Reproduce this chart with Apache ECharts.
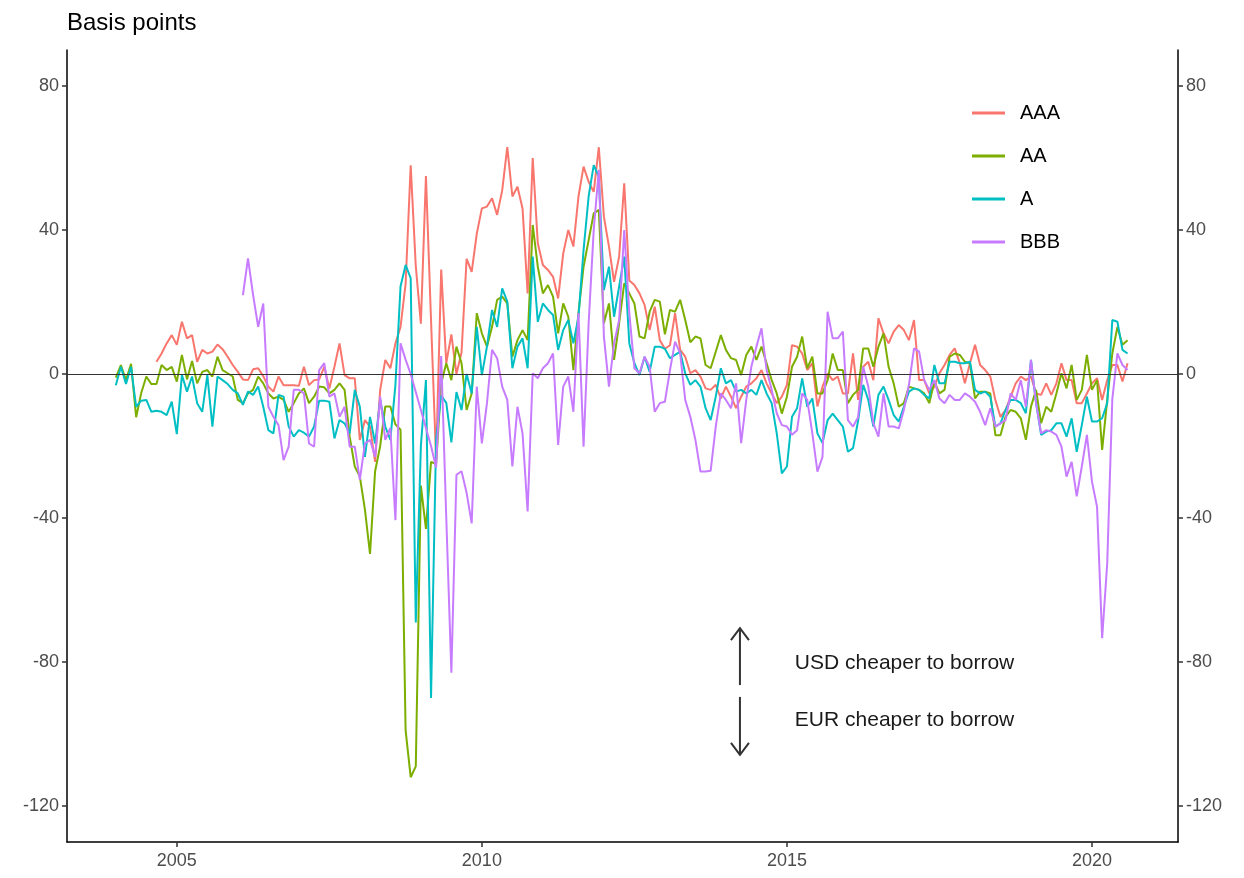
<!DOCTYPE html>
<html>
<head>
<meta charset="utf-8">
<script src="https://cdn.jsdelivr.net/npm/echarts@6/dist/echarts.min.js"></script>
<style>
html, body { margin: 0; padding: 0; background: #fff; }
#main { width: 1244px; height: 878px; }
</style>
</head>
<body>
<div id="main"></div>
<script>
var seriesNames = ['AAA', 'AA', 'A', 'BBB'];
var colors = ['#F8766D', '#7CAE00', '#00BFC4', '#C77CFF'];
// month of first observation, counted from Jan 2004
var startMonth = [8, 0, 0, 25];

var aaa = [3.4, 5.7, 8.5, 10.8, 8.1, 14.5, 9.9, 10.8, 3.4, 6.7, 5.7, 6.2, 8.2, 6.9, 4.8, 2.5, 0.6, -1.5, -1.7, 1.3, 1.6, -0.6, -3.5, -4.9, -0.7, -3.1, -3.1, -3.1, -3.3,
  2.0, -3.1, -1.7, -1.5, 2.0, -4.0, 2.0, 8.5, -0.3, -1.2, -1.2, -18.3, -12.8, -14.6, -24.4, -4.4, 3.9, 1.6, 8.5, 13.1, 25, 58, 30, 14, 55, 15, -24, 29, 3, 11, 0, 6, 32,
  28.4, 39, 46, 46.5, 48.8, 44.2, 51, 63, 49.3, 52, 46, 22.4, 60, 36.3, 30.3, 28.9, 27, 21, 33.5, 40, 35.4, 49.3, 57.6, 53.4, 50.6, 63, 43.7, 35.4, 25.6, 32.6, 53, 26, 24.7, 22.4, 19.2, 12.2, 18.7, 9.4, 7,
  8, 16.9, 6.7, 4.8, 0.2, 1.1, -0.7, -4, -4.4, -3, -6.8, -3.5, -6.3, -9.5, -6.3, -3.5, -2.6, -1.2, 1.1, -2.6, -5.4, -8.1, -6.3, -3, 8, 7.6, 5.7, 1.1, 3, -9, -3.5, 0.2, -1.7, -0.7, -5.4, -5.4, 5.7, -7.2,
  2, 3.4, -1.7, 15.5, 11.3, 8.5, 11.8, 13.6, 12.2, 9.4, 15, -1.7, -1.7, -5.4, -3.5, 0.2, 2.5, 5.3, 7.1, 3, -2.6, 3, 8.1, 2.5, 1.1, -0.7, -7.2, -11.9, -10, -6.3, -2.6, -0.7, -1.7, -0.7, -5.4, -5.8, -2.6,
  -5.8, -2.6, 3, -1.7, -1.7, -8.1, -8.1, -5.4, -2.6, -1.2, -7.2, -1.7, 2.5, 2.5, -2.1, 3];

var aa = [-1, 2.5, -1.7, 2.8, -12, -5.3, -0.7, -2.8, -2.8, 2.5, 1.1, 2, -2.1, 5.3, -1.5, 3.6, -2.6, 0.6, 1.1, -0.7, 4.8, 1.1, 0.2, -0.7, -7.2, -8.1, -5.4, -4.4, -0.7, -2.6, -5.4, -6.8, -6.3, -7.2, -10.5, -8.1, -5.4,
  -4.0, -8.1, -6.3, -3.5, -3.7, -5.4, -4.4, -2.6, -4.4, -17.4, -25.7, -28.5, -37.7, -50, -27, -20, -9, -9, -14, -15.5,
  -99, -112, -109, -31, -43, -24.4, -25, -2.6, 3, -1.7, 7.6, 3, -10,
  -5.4, 16.9, 11.3, 7.6, 13.1, 20.6, 21.5, 19.6, 4.8, 9.4, 12.2, 9.4, 41.4, 29.8, 22.4, 24.7, 21.5, 11.3, 19.6, 15.9, 1.1, 16.9, 29.8, 37.2, 44.6, 45.6, 14.1, 19.6, 3.9, 14.1, 25.2, 22.4, 19.6, 10.4, 9.9, 17.3, 20.6, 20.1, 11,
  17.8, 17.3, 20.6, 15, 8.8, 10.4, 9.9, 2.5, 1.6, 6.2, 10.8, 6.7, 4.4, 3.9, -0.3, 5.3, 7.6, 3.9, 7.6, 3, -1.7, -5.4, -11, -6.3, 2, 4.8, 10.4, 1.6, 4.8, -5.4, -5.4, -1.7, 5.7, 1.1, 1.1, -8.1, -5.8, -4.4,
  7.1, 7.1, 2, 7.6, 11.3, 2, -2.6, -9.1, -8.1, -3.5, -4, -4.4, -5.4, -8.1, -2.1, -5.4, -4.4, 4.8, 5.7, 5.3, 3.4, 3, -6.8, -4.9, -4.9, -5.4, -17, -17, -11.9, -10, -10.5, -12.3, -18.3, -9.1, -4.4, -13.7, -9.1,
  -10.5, -5.4, 0.2, -4, 2.5, -7.2, -4.4, 5.3, -4.4, -1.7, -21.1, -7.2, 5.7, 13.1, 8.1, 9.4];

var a = [-3.1, 2.0, -2.8, 2.0, -9.1, -7.4, -7.2, -10.5, -10.2, -10.5, -11.4, -7.7, -16.7, -0.3, -4.9, -0.7, -8.1, -10.5, -0.3, -14.6, -0.7, -1.7, -2.8, -4.4, -5.4, -8.6, -4.9, -5.8, -3.5, -9.1, -15.6, -16.5, -5.8, -6.3, -14.6, -17.4, -15.6,
  -16.3, -17.4, -14.6, -7.4, -7.4, -7.7, -17.9, -12.8, -13.7, -16.5, -4.4, -9.1, -23, -11.9, -19.3, -7.2, -14.6, -18.3, -3, 24.3,
  30.3, 26.6, -69, -20, -1.7, -90, -18, -6, -8, -19, -5, -10, 0,
  -5.4, 13.1, -0.3, 7.6, 17.8, 13.1, 23.8, 20.1, 1.6, 7.6, 9.9, 1.6, 32.6, 14.5, 19.6, 17.8, 16.4, 6.7, 12.2, 15, 8.5, 15.9, 34.4, 49.3, 58, 54.8, 23.3, 29.8, 15.9, 24.3, 32.6, 8.5, 3, -0.3, 4.8, 0.6, 7.6, 7.6, 7,
  4.4, 5.3, 6.2, 0.2, -3, -1.7, -3.5, -9.5, -12.8, -6.3, 1.6, -2.6, -1.7, -4.9, -4.4, -5.4, -4.4, -5.8, -1.7, -5.4, -8.1, -16.5, -27.6, -25.7, -11.9, -9.5, -1.2, -9.1, -6.8, -16.5, -19.2, -12.8, -11, -12.8, -14.6, -21.6, -20.6, -13,
  -3, -7.2, -14.6, -5.8, -3.5, -7.2, -11.4, -13.2, -9.1, -4.9, -4, -4.4, -5.8, -6.8, 2.5, -2.6, -2.6, 3.4, 3.4, 3, 3, 3.4, -4.4, -5.4, -4.9, -6.3, -14.6, -13.7, -10, -7.2, -7.2, -8.1, -10.9, 3.9, -8, -16.9, -16,
  -15.6, -13.7, -13.7, -17.4, -12.3, -21.6, -14.2, -6.3, -13.2, -13.2, -12.3, -8.1, 15, 14.5, 6.7, 5.7];

var bbb = [21.9, 32.1, 22, 13.1, 19.6, -9.1, -11.9, -14.2, -23.9, -20.2, -4.4, -4.4,
  -5.4, -19.3, -20.2, 1.1, 3, -6.3, -5.4, -11.9, -9.1, -20.2, -20.2, -29.4, -19.3, -18.3, -23, -6.3, -18.3, -15, -40.6, 8.5, 4, 0, -5, -10, -15, -20, -26, 5, -40, -83, -28, -27, -33,
  -41.5, -3.5, -19.3, -8.1, 6.7, 4.4, -3.5, -7.2, -25.7, -9.1, -16.5, -38.2, 0.2, -1.2, 1.6, 3, 5.7, -19.7, -3.5, -0.7, -10.5, 16.9, -20.2, 14.1, 40, 56.7, 10.4, -3.5, 8.5, 15, 40, 16.9, 1.6, 0.2, 4.8, 2, -10.5, -8.1, -7.7,
  1.1, 9, 5.7, -7.2, -11.9, -18.3, -27.1, -27.1, -26.9, -14.6, -5.4, -7.2, -9.5, -2.6, -19.2, -7.2, 2, 7.6, 12.7, 1.1, -4.4, -10.9, -14.2, -14.6, -16.9, -15.6, -5.4, -7.2, -16.5, -27.1, -23, 17.3, 9.9, 9.9, 11.8, -12.8, -14.6, -12,
  2, -3.5, -13.7, -17.4, -5.4, -14.6, -14.6, -15.1, -10, -3, 7.1, 6.2, -1.7, -4.4, -1.7, -6.8, -8.1, -5.8, -7.2, -7.2, -5.4, -6.3, -7.7, -10.5, -14.2, -9.5, -14.6, -13.7, -12.8, -5.4, -7.2, -1.7, -9.1, 3.9, -8.1, -16.5, -15.6,
  -16, -16.9, -20.2, -28.5, -24.4, -34, -25.7, -16.9, -29.9, -36.9, -73.4, -52.6, -7, 5.7, 2.5, 1.1];

var xTicks = [2005, 2010, 2015, 2020];
var yTicks = [-120, -80, -40, 0, 40, 80];

function toPoints(values, start) {
  return values.map(function (v, k) {
    return [2004 + (start + k) / 12, v];
  });
}

var allValues = [aaa, aa, a, bbb];
var myChart = echarts.init(document.getElementById('main'));

var axisFont = { color: '#4d4d4d', fontSize: 18, fontFamily: 'Liberation Sans, Arial, sans-serif' };

function yAxisFor(pos) {
  return {
    type: 'value',
    position: pos,
    min: -130,
    max: 90,
    axisLine: { show: true, onZero: false, lineStyle: { color: '#000', width: 1.5 } },
    axisTick: { show: true, length: 5, customValues: yTicks, lineStyle: { color: '#333', width: 1.5 } },
    axisLabel: Object.assign({ margin: 8, customValues: yTicks, formatter: function (v) { return String(v); } }, axisFont),
    splitLine: { show: false }
  };
}

var series = seriesNames.map(function (name, k) {
  return {
    name: name,
    type: 'line',
    data: toPoints(allValues[k], startMonth[k]),
    showSymbol: false,
    symbol: 'none',
    lineStyle: { color: colors[k], width: 2 },
    itemStyle: { color: colors[k] }
  };
});

// zero reference line
series.push({
  name: 'zero',
  type: 'line',
  data: [],
  markLine: {
    silent: true,
    symbol: 'none',
    label: { show: false },
    lineStyle: { color: '#333', width: 1.2, type: 'solid' },
    data: [{ yAxis: 0 }]
  }
});

var option = {
  animation: false,
  backgroundColor: '#fff',
  title: {
    text: 'Basis points',
    left: 62,
    top: 6,
    textStyle: { color: '#000', fontSize: 24, fontWeight: 'normal', fontFamily: 'Liberation Sans, Arial, sans-serif' }
  },
  grid: { left: 67, right: 66, top: 50, bottom: 36, containLabel: false },
  legend: {
    data: seriesNames,
    orient: 'vertical',
    left: 967,
    top: 98,
    icon: 'rect',
    itemWidth: 33,
    itemHeight: 3,
    itemGap: 23,
    textStyle: { color: '#000', fontSize: 20, fontFamily: 'Liberation Sans, Arial, sans-serif', padding: [0, 0, 0, 10] }
  },
  xAxis: {
    type: 'value',
    min: 2003.2,
    max: 2021.41,
    axisLine: { show: true, onZero: false, lineStyle: { color: '#000', width: 1.5 } },
    axisTick: { show: true, length: 5, customValues: xTicks, lineStyle: { color: '#333', width: 1.5 } },
    axisLabel: Object.assign({ margin: 10, customValues: xTicks, formatter: function (v) { return String(v); } }, axisFont),
    splitLine: { show: false }
  },
  yAxis: [yAxisFor('left'), yAxisFor('right')],
  series: series
};
myChart.setOption(option);

// arrows and the note on which currency is cheaper
var up1 = myChart.convertToPixel({ gridIndex: 0 }, [2014.23, -70.6]);
var up2 = myChart.convertToPixel({ gridIndex: 0 }, [2014.23, -86.4]);
var dn1 = myChart.convertToPixel({ gridIndex: 0 }, [2014.23, -89.7]);
var dn2 = myChart.convertToPixel({ gridIndex: 0 }, [2014.23, -105.8]);
var usd = myChart.convertToPixel({ gridIndex: 0 }, [2015.13, -80.3]);
var eur = myChart.convertToPixel({ gridIndex: 0 }, [2015.13, -96.1]);
var headW = 9, headH = 12;
var arrowStyle = { stroke: '#333', lineWidth: 2, fill: null };
var noteFont = { fill: '#1a1a1a', fontSize: 21, fontFamily: 'Liberation Sans, Arial, sans-serif', verticalAlign: 'middle', align: 'left' };

myChart.setOption({
  graphic: [
    { type: 'line', shape: { x1: up1[0], y1: up1[1], x2: up2[0], y2: up2[1] }, style: arrowStyle },
    { type: 'polyline', shape: { points: [[up1[0] - headW, up1[1] + headH], [up1[0], up1[1]], [up1[0] + headW, up1[1] + headH]] }, style: arrowStyle },
    { type: 'line', shape: { x1: dn1[0], y1: dn1[1], x2: dn2[0], y2: dn2[1] }, style: arrowStyle },
    { type: 'polyline', shape: { points: [[dn2[0] - headW, dn2[1] - headH], [dn2[0], dn2[1]], [dn2[0] + headW, dn2[1] - headH]] }, style: arrowStyle },
    { type: 'text', x: usd[0], y: usd[1], style: Object.assign({ text: 'USD cheaper to borrow' }, noteFont) },
    { type: 'text', x: eur[0], y: eur[1], style: Object.assign({ text: 'EUR cheaper to borrow' }, noteFont) }
  ]
});
</script>
</body>
</html>
